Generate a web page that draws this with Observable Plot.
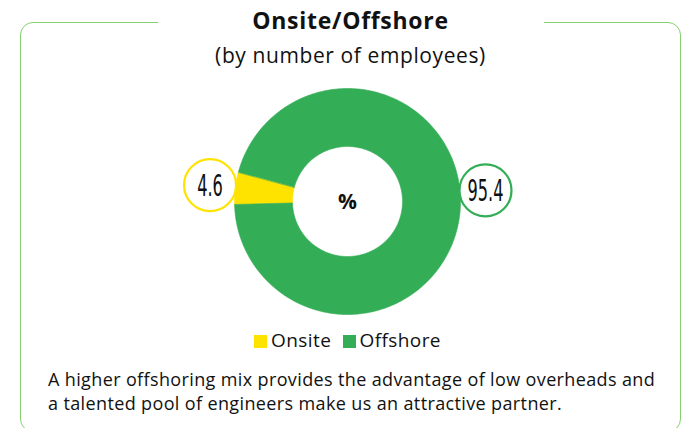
<!DOCTYPE html>
<html><head><meta charset="utf-8">
<script src="https://cdn.jsdelivr.net/npm/d3@7"></script>
<script src="https://cdn.jsdelivr.net/npm/@observablehq/plot@0.6"></script>
<style>
body{margin:0;background:#fff;font-family:"Open Sans",Lato,sans-serif;color:#111;}
#wrap{position:relative;width:695px;height:428px;overflow:hidden;}
#frame{position:absolute;left:20px;top:22px;width:661px;height:410px;border:1.6px solid #88cf70;border-radius:13px;box-sizing:border-box;}
#mask{position:absolute;left:158px;top:14px;width:386px;height:16px;background:#fff;}
#title{position:absolute;left:3px;width:695px;top:5px;text-align:center;font-weight:700;font-size:23px;line-height:30px;letter-spacing:0.7px;}
#subtitle{position:absolute;left:3px;width:695px;top:40px;text-align:center;font-size:21px;line-height:30px;letter-spacing:0.6px;}
#chart{position:absolute;left:0;top:80px;}
#legend{position:absolute;left:0;width:695px;top:326px;text-align:center;font-size:19px;line-height:28px;letter-spacing:0.4px;}
#legend span.sw{display:inline-block;width:13px;height:13px;margin-right:4px;vertical-align:-1px;}
#legend span.it{margin:0 3px;}
#caption{position:absolute;left:48px;top:367px;font-size:18px;line-height:24px;width:645px;letter-spacing:0.37px;}
</style>
</head><body>
<div id="wrap">
  <div id="frame"></div>
  <div id="mask"></div>
  <div id="title"></div>
  <div id="subtitle"></div>
  <div id="chart"></div>
  <div id="legend"></div>
  <div id="caption"></div>
</div>
<script>
// ---- data ----
const categories = ["Onsite", "Offshore"];
const values = [4.6, 95.4];
const colors = ["#ffe300", "#34ad57"];
const labelTexts = ["4.6", "95.4"];
const centerText = "%";
const titleText = "Onsite/Offshore";
const subtitleText = "(by number of employees)";
const captionLines = [
  "A higher offshoring mix provides the advantage of low overheads and",
  "a talented pool of engineers make us an attractive partner."
];

// ---- layout (style, not data) ----
const startDeg = 268.5;          // where the first slice begins, clockwise from 12 o'clock
const innerRatio = 55 / 113;     // donut hole
const labelRadius = 1.225;
const labelAngleOverride = {Offshore: 85.4};

document.getElementById("title").textContent = titleText;
document.getElementById("subtitle").textContent = subtitleText;
document.getElementById("caption").innerHTML = captionLines.join("<br>");
document.getElementById("legend").innerHTML = categories.map((c, i) =>
  `<span class="it"><span class="sw" style="background:${colors[i]}"></span>${c}</span>`).join(" ");

const total = d3.sum(values);
let acc = startDeg;
const slices = categories.map((c, i) => {
  const a0 = acc, a1 = acc + values[i] / total * 360;
  acc = a1;
  return {cat: c, a0, a1, label: labelTexts[i], color: colors[i]};
});
const rad = d => d * Math.PI / 180;
const pts = [];
for (const s of slices) {
  const n = Math.max(4, Math.ceil(s.a1 - s.a0));
  for (let k = 0; k <= n; k++) {
    const a = rad(s.a0 + (s.a1 - s.a0) * k / n);
    pts.push({cat: s.cat, x: Math.sin(a), y: Math.cos(a)});
  }
  for (let k = n; k >= 0; k--) {
    const a = rad(s.a0 + (s.a1 - s.a0) * k / n);
    pts.push({cat: s.cat, x: innerRatio * Math.sin(a), y: innerRatio * Math.cos(a)});
  }
}
const labels = slices.map(s => {
  const ang = rad(labelAngleOverride[s.cat] ?? (s.a0 + s.a1) / 2);
  return {cat: s.cat, text: s.label, x: labelRadius * Math.sin(ang), y: labelRadius * Math.cos(ang)};
});
const center = [{x: 0, y: 0, text: centerText}];

const cx = 347, cy = 121, R = 113;
const plot = Plot.plot({
  width: 695, height: 245,
  margin: 0,
  x: {domain: [-1, 1], range: [cx - R, cx + R], axis: null},
  y: {domain: [-1, 1], range: [cy + R, cy - R], axis: null},
  color: {domain: categories, range: colors},
  marks: [
    Plot.line(pts, {x: "x", y: "y", z: "cat", fill: "cat", stroke: "cat", strokeWidth: 0.6, curve: "linear-closed"}),
    Plot.dot(labels, {x: "x", y: "y", r: 26, fill: "white", stroke: "cat", strokeWidth: 2.2}),
    Plot.text(labels, {x: "x", y: "y", text: "text", fontSize: 30, fill: "#111", className: "lbl",
      fontFamily: "'Liberation Sans Narrow','DejaVu Sans Condensed',sans-serif", dy: 1}),
    Plot.text(center, {x: "x", y: "y", text: "text", fontSize: 21, fontWeight: 700, fill: "#111",
      fontFamily: "'Open Sans', Lato, sans-serif", dy: 1})
  ]
});
document.getElementById("chart").appendChild(plot);
// condense the label digits like the reference
d3.select(plot).selectAll("g.lbl text").each(function() {
  const w = this.getComputedTextLength();
  d3.select(this).attr("textLength", w * 0.6).attr("lengthAdjust", "spacingAndGlyphs");
});
</script>
</body></html>
